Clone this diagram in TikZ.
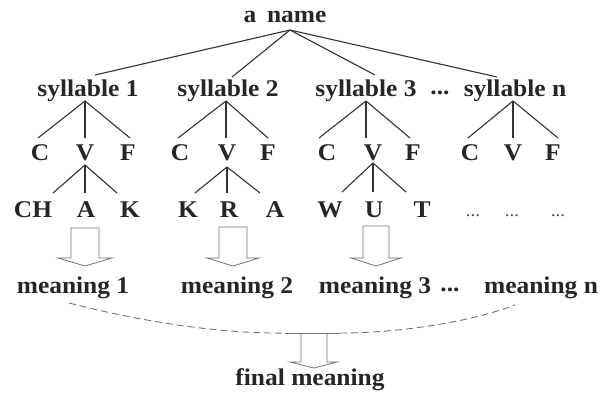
\documentclass[tikz,border=0pt]{standalone}
\usepackage{fontspec}
\setmainfont[FakeStretch=1.06]{Liberation Serif}
\begin{document}
\begin{tikzpicture}[x=1pt,y=1pt,
  lbl/.style={inner sep=0pt,anchor=center,font=\fontsize{24}{26}\selectfont\bfseries,text=black!85},
  dotlbl/.style={inner sep=0pt,anchor=center,font=\fontsize{18}{20}\selectfont,text=black!70},
  edge/.style={draw=black!80,line width=1.1pt},
  hollow/.style={draw=black!55,line width=0.8pt,line join=miter},
  dashcurve/.style={draw=black!55,line width=0.9pt,dash pattern=on 7pt off 4pt}]
\useasboundingbox (0,0) rectangle (603,-394);
\fill[white] (0,0) rectangle (603,-394);

% root
\node[lbl] (name) at (285,-17) {a\hspace{0.45em}name};
\coordinate (top) at (290,-30);

% syllables
\node[lbl] (s1) at (88,-91) {syllable 1};
\node[lbl] (s2) at (228,-91) {syllable 2};
\node[lbl] (s3) at (366,-91) {syllable 3};
\node[lbl] (sd) at (440,-93) {...};
\node[lbl] (sn) at (515,-91) {syllable n};

\coordinate (s1t) at (95,-75);
\coordinate (s2t) at (232,-77);
\coordinate (s3t) at (375,-75);
\coordinate (snt) at (497,-77);
\foreach \t in {s1t,s2t,s3t,snt} \draw[edge] (top) -- (\t);

% C V F rows
\foreach \g/\ax/\cx/\vx/\fx/\lx/\rx in {1/85/40/85/128/38/130, 2/226/180/227/268/178/268, 3/366/327/373/413/319/410, n/513/470/513/553/468/558}{
  \coordinate (a\g) at (\ax,-101);
  \node[lbl] (c\g) at (\cx,-153) {C};
  \node[lbl] (v\g) at (\vx,-153) {V};
  \node[lbl] (f\g) at (\fx,-153) {F};
  \coordinate (cl\g) at (\lx,-138);
  \coordinate (cm\g) at (\ax,-138);
  \coordinate (cr\g) at (\rx,-138);
  \draw[edge] (a\g) -- (cl\g);
  \draw[edge] (a\g) -- (cm\g);
  \draw[edge] (a\g) -- (cr\g);
}

% letter rows
\node[lbl] (l11) at (33,-210) {CH};
\node[lbl] (l12) at (86,-210) {A};
\node[lbl] (l13) at (130,-210) {K};
\node[lbl] (l21) at (188,-210) {K};
\node[lbl] (l22) at (229,-210) {R};
\node[lbl] (l23) at (275,-210) {A};
\node[lbl] (l31) at (330,-210) {W};
\node[lbl] (l32) at (374,-210) {U};
\node[lbl] (l33) at (422,-210) {T};
\node[dotlbl] (d1) at (473,-216) {...};
\node[dotlbl] (d2) at (512,-216) {...};
\node[dotlbl] (d3) at (558,-216) {...};

\foreach \g/\ax/\ay/\lx/\rx/\ey in {1/85/165/53/117/193, 2/227/167/195/260/193, 3/373/163/342/406/192}{
  \coordinate (va\g) at (\ax,-\ay);
  \coordinate (vl\g) at (\lx,-\ey);
  \coordinate (vm\g) at (\ax,-\ey);
  \coordinate (vr\g) at (\rx,-\ey);
  \draw[edge] (va\g) -- (vl\g);
  \draw[edge] (va\g) -- (vm\g);
  \draw[edge] (va\g) -- (vr\g);
}

% hollow arrows
\foreach \l/\r/\t/\hl/\hr/\tx in {71/99/228/58/112/85, 219/247/227/207/259/233, 363/389/226/351/401/376}{
  \draw[hollow] (\l,-\t) -- (\l,-258) -- (\hl,-258) -- (\tx,-266) -- (\hr,-258) -- (\r,-258) -- (\r,-\t) -- cycle;
}

% meanings
\node[lbl] (m1) at (73,-288) {meaning 1};
\node[lbl] (m2) at (237,-288) {meaning 2};
\node[lbl] (m3) at (375,-288) {meaning 3};
\node[lbl] (md) at (450,-290) {...};
\node[lbl] (mn) at (541,-288) {meaning n};

% dashed gathering curve
\coordinate (cl) at (69,-303);
\coordinate (cr) at (515,-305);
\coordinate (fl) at (285,-333);
\coordinate (fr) at (340,-333);
\draw[dashcurve] (cl) .. controls (150,-324) and (230,-334) .. (fl);
\draw[dashcurve] (fr) .. controls (400,-333) and (470,-322) .. (cr);

% final arrow
\draw[hollow] (fl) -- (fr);
\draw[hollow] (301,-333) -- (301,-362) -- (290,-362) -- (314,-368) -- (337,-362) -- (327,-362) -- (327,-333);

\node[lbl] (fin) at (310,-380) {final meaning};
\end{tikzpicture}
\end{document}
